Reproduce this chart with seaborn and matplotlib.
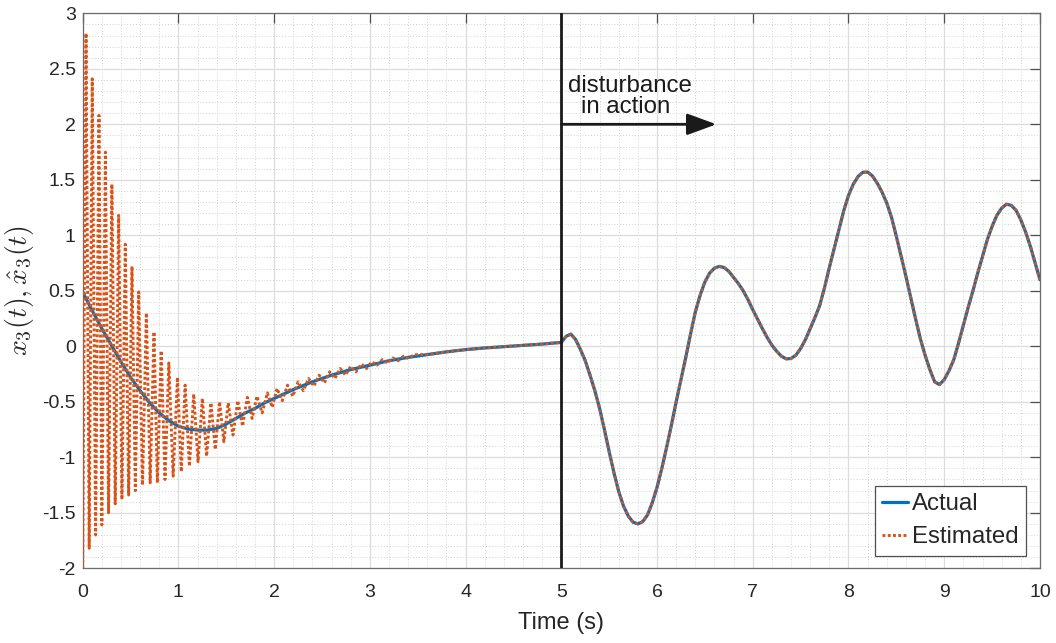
import numpy as np
import pandas as pd
import matplotlib
matplotlib.use("Agg")
import matplotlib.pyplot as plt
import seaborn as sns
from matplotlib.ticker import MultipleLocator, FormatStrFormatter

sns.set_theme(style="white")
plt.rcParams["font.family"] = ["Liberation Sans", "DejaVu Sans"]
plt.rcParams["mathtext.fontset"] = "cm"
plt.rcParams["axes.unicode_minus"] = False

# ---------------- data ----------------
actual_t = [0.0, 0.1, 0.2, 0.3, 0.4, 0.5, 0.6, 0.7, 0.8, 0.9, 1.0, 1.1, 1.2, 1.3,
            1.4, 1.5, 1.6, 1.7, 1.8, 1.9, 2.0, 2.2, 2.4, 2.6, 2.8, 3.0, 3.2, 3.4,
            3.6, 3.8, 4.0, 4.2, 4.4, 4.6, 4.8,
            5.00, 5.05, 5.10, 5.15, 5.20, 5.25, 5.30, 5.35, 5.40, 5.45, 5.50, 5.55,
            5.60, 5.65, 5.70, 5.75, 5.80, 5.85, 5.90, 5.95, 6.00, 6.05, 6.10, 6.15,
            6.20, 6.25, 6.30, 6.35, 6.40, 6.45, 6.50, 6.55, 6.60, 6.65, 6.70, 6.75,
            6.80, 6.85, 6.90, 6.95, 7.00, 7.05, 7.10, 7.15, 7.20, 7.25, 7.30, 7.35,
            7.40, 7.45, 7.50, 7.55, 7.60, 7.65, 7.70, 7.75, 7.80, 7.85, 7.90, 7.95,
            8.00, 8.05, 8.10, 8.15, 8.20, 8.25, 8.30, 8.35, 8.40, 8.45, 8.50, 8.55,
            8.60, 8.65, 8.70, 8.75, 8.80, 8.85, 8.90, 8.95, 9.00, 9.05, 9.10, 9.15,
            9.20, 9.25, 9.30, 9.35, 9.40, 9.45, 9.50, 9.55, 9.60, 9.65, 9.70, 9.75,
            9.80, 9.85, 9.90, 9.95, 10.00]
actual_v = [0.49, 0.32, 0.16, 0.01, -0.14, -0.28, -0.40, -0.51, -0.60, -0.67, -0.72,
            -0.745, -0.755, -0.755, -0.74, -0.70, -0.65, -0.60, -0.56, -0.51, -0.47,
            -0.39, -0.32, -0.26, -0.21, -0.17, -0.13, -0.10, -0.075, -0.05, -0.03,
            -0.015, -0.003, 0.008, 0.02,
            0.035, 0.09, 0.11, 0.06, -0.03, -0.13, -0.26, -0.40, -0.56, -0.75, -0.95, -1.14,
            -1.31, -1.44, -1.53, -1.585, -1.60, -1.58, -1.52, -1.41, -1.27, -1.10, -0.91, -0.71,
            -0.50, -0.30, -0.10, 0.11, 0.31, 0.46, 0.58, 0.66, 0.705, 0.72, 0.71, 0.675,
            0.62, 0.565, 0.50, 0.42, 0.33, 0.245, 0.16, 0.08, 0.01, -0.045, -0.09, -0.113,
            -0.11, -0.08, -0.02, 0.06, 0.16, 0.26, 0.37, 0.53, 0.71, 0.88, 1.05, 1.22,
            1.36, 1.46, 1.53, 1.568, 1.57, 1.535, 1.47, 1.39, 1.29, 1.16, 0.99, 0.81,
            0.63, 0.44, 0.25, 0.07, -0.08, -0.21, -0.32, -0.345, -0.30, -0.22, -0.12, 0.03,
            0.19, 0.35, 0.50, 0.66, 0.81, 0.96, 1.08, 1.18, 1.245, 1.28, 1.27, 1.225,
            1.14, 1.03, 0.90, 0.75, 0.60]

# estimated: upper peaks and lower troughs of the initial oscillation
peak_t = [0.035, 0.10, 0.17, 0.237, 0.305, 0.376, 0.445, 0.515, 0.585, 0.665, 0.745,
          0.82, 0.90, 0.99, 1.07, 1.16, 1.25, 1.34, 1.43, 1.52, 1.62, 1.72, 1.82,
          1.93, 2.03, 2.14, 2.25, 2.36, 2.47, 2.58, 2.69, 2.80, 2.91, 3.02, 3.13,
          3.24, 3.35, 3.46]
peak_v = [2.82, 2.41, 2.08, 1.75, 1.46, 1.18, 0.92, 0.72, 0.49, 0.30, 0.13,
          -0.04, -0.15, -0.28, -0.35, -0.43, -0.47, -0.51, -0.50, -0.51, -0.49,
          -0.46, -0.45, -0.42, -0.38, -0.35, -0.32, -0.29, -0.26, -0.23, -0.20,
          -0.18, -0.16, -0.14, -0.12, -0.105, -0.09, -0.075]
trough_t = [0.0, 0.068, 0.135, 0.20, 0.27, 0.34, 0.41, 0.48, 0.55, 0.625, 0.705,
            0.78, 0.86, 0.945, 1.03, 1.115, 1.205, 1.295, 1.385, 1.475, 1.57, 1.67,
            1.77, 1.875, 1.98, 2.085, 2.195, 2.305, 2.415, 2.525, 2.635, 2.745,
            2.855, 2.965, 3.075, 3.185, 3.295, 3.405]
trough_v = [-2.0, -1.82, -1.70, -1.61, -1.50, -1.42, -1.38, -1.34, -1.30, -1.25, -1.23,
            -1.23, -1.20, -1.17, -1.13, -1.08, -1.04, -0.99, -0.93, -0.86, -0.80, -0.72,
            -0.65, -0.60, -0.55, -0.49, -0.45, -0.40, -0.36, -0.33, -0.29, -0.26,
            -0.23, -0.20, -0.17, -0.15, -0.13, -0.11]

x_ticks = [0, 1, 2, 3, 4, 5, 6, 7, 8, 9, 10]
y_ticks = [-2, -1.5, -1, -0.5, 0, 0.5, 1, 1.5, 2, 2.5, 3]

# ---------------- assemble ----------------
df_act = pd.DataFrame({"t": actual_t, "v": actual_v})
osc = pd.DataFrame({"t": peak_t + trough_t, "v": peak_v + trough_v}).sort_values("t")
tail = df_act[df_act["t"] > osc["t"].max()]
df_est = pd.concat([osc, tail], ignore_index=True)

fig, ax = plt.subplots(figsize=(10.56, 6.43), dpi=100)
fig.subplots_adjust(left=0.0783, right=0.9848, bottom=0.1162, top=0.9793)

sns.lineplot(data=df_act, x="t", y="v", ax=ax, color="#0072BD", lw=2.3,
             label="Actual", estimator=None, sort=False, zorder=3)
sns.lineplot(data=df_est, x="t", y="v", ax=ax, color="#D95319", lw=2.1,
             linestyle=(0, (1, 0.8)), label="Estimated", estimator=None, sort=False, zorder=4)

ax.set_xlim(0, 10)
ax.set_ylim(-2, 3)
ax.set_xticks(x_ticks)
ax.set_yticks(y_ticks)
ax.yaxis.set_major_formatter(FormatStrFormatter("%g"))
ax.xaxis.set_minor_locator(MultipleLocator(0.2))
ax.yaxis.set_minor_locator(MultipleLocator(0.1))
ax.grid(which="major", color="#dcdcdc", lw=0.9, ls="-")
ax.grid(which="minor", color="#d2d2d2", lw=0.7, ls=(0, (1, 2)))
ax.set_axisbelow(True)

ax.tick_params(which="major", direction="in", length=7, width=0.9, top=True, right=True,
               labelsize=14, color="#505050", labelcolor="#262626")
ax.tick_params(axis="x", pad=11)
ax.tick_params(axis="y", pad=5)
ax.tick_params(which="minor", length=0)
for s in ax.spines.values():
    s.set_color("#6a6a6a")
    s.set_linewidth(0.9)

ax.set_xlabel("Time (s)", fontsize=17, color="#262626", labelpad=8)
ax.set_ylabel(r"$x_3(t), \hat{x}_3(t)$", fontsize=20, color="#262626")
ax.yaxis.set_label_coords(-0.049, 0.5)

ax.axvline(5, color="k", lw=2.0, zorder=5)
ax.annotate("", xy=(6.62, 2.0), xytext=(5.0, 2.0),
            arrowprops=dict(arrowstyle="-|>,head_length=0.9,head_width=0.33",
                            lw=2.0, color="k", mutation_scale=20, shrinkA=0, shrinkB=0),
            zorder=6)
ax.text(5.715, 2.294, "disturbance", ha="center", va="baseline", fontsize=17.3, color="k")
ax.text(5.675, 2.099, "in action", ha="center", va="baseline", fontsize=17.3, color="k")

leg = ax.legend(loc="lower right", bbox_to_anchor=(0.985, 0.023), borderaxespad=0,
                fontsize=17.3, frameon=True, fancybox=False, edgecolor="#505050",
                framealpha=1, handlelength=1.1, handletextpad=0.15, borderpad=0.3,
                labelspacing=0.45)
leg.get_frame().set_linewidth(0.9)

fig.savefig("out.png", dpi=100)
